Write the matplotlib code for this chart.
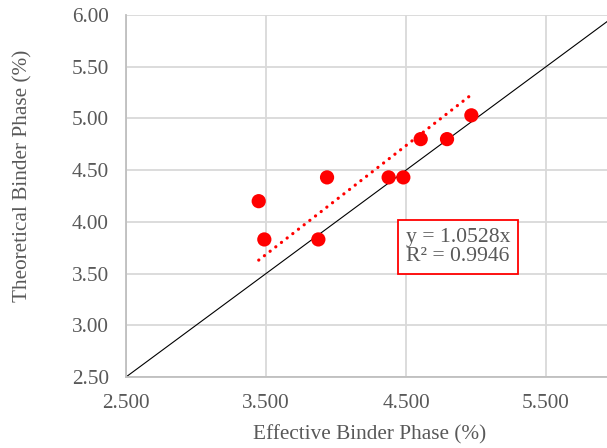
import matplotlib
matplotlib.use("Agg")
import matplotlib.pyplot as plt
import numpy as np

# data
effective = [3.448, 3.488, 3.936, 3.874, 4.376, 4.481, 4.605, 4.793, 4.967]
theoretical = [4.20, 3.83, 4.43, 3.83, 4.43, 4.43, 4.80, 4.80, 5.03]
slope = 1.0528
r2 = 0.9946

x_ticks = [2.5, 3.5, 4.5, 5.5]
y_ticks = [2.5, 3.0, 3.5, 4.0, 4.5, 5.0, 5.5, 6.0]

plt.rcParams["font.family"] = ["Liberation Serif", "DejaVu Serif"]
text_color = "#595959"
grid_color = "#d9d9d9"

W, H = 607, 448
fig = plt.figure(figsize=(W / 100, H / 100), dpi=100)
# axes runs a bit past the right edge, as in the cropped original
ax = fig.add_axes([126 / W, (H - 377) / H, 490 / W, 362 / H])

ax.set_xlim(2.5, 6.0)
ax.set_ylim(2.5, 6.0)
ax.set_xticks(x_ticks)
ax.set_xticklabels([f"{v:.3f}" for v in x_ticks])
ax.set_yticks(y_ticks)
ax.set_yticklabels([f"{v:.2f}" for v in y_ticks])
ax.tick_params(length=0, labelsize=15.3, labelcolor=text_color, pad=12.5)
ax.grid(True, color=grid_color, linewidth=1.3)
ax.set_axisbelow(True)
for side in ["top", "right"]:
    ax.spines[side].set_visible(False)
for side in ["left", "bottom"]:
    ax.spines[side].set_color("#bfbfbf")
    ax.spines[side].set_linewidth(1.3)

# line of equality
ax.plot([2.5, 6.0], [2.5, 6.0], color="black", linewidth=0.8, zorder=2)

# trendline through origin
tx = np.array([min(effective), max(effective)])
ax.plot(tx, slope * tx, color="red", linewidth=2.3, linestyle=(0, (0.05, 2.2)),
        dash_capstyle="round", zorder=3)

ax.scatter(effective, theoretical, s=105, color="red", edgecolors="none", zorder=4)

ax.text(4.87, 3.757, f"y = {slope}x\nR² = {r2}", ha="center", va="center",
        fontsize=15.6, color=text_color, linespacing=1.0,
        bbox=dict(boxstyle="square,pad=0.35", facecolor="white",
                  edgecolor="red", linewidth=1.3), zorder=5)

ax.set_xlabel("Effective Binder Phase (%)", fontsize=15.3, color=text_color, va="center")
ax.set_ylabel("Theoretical Binder Phase (%)", fontsize=15.3, color=text_color, va="center")
ax.xaxis.set_label_coords(0.498, -0.160)
ax.yaxis.set_label_coords(-0.210, 0.555)

fig.savefig("out.png", dpi=100)
